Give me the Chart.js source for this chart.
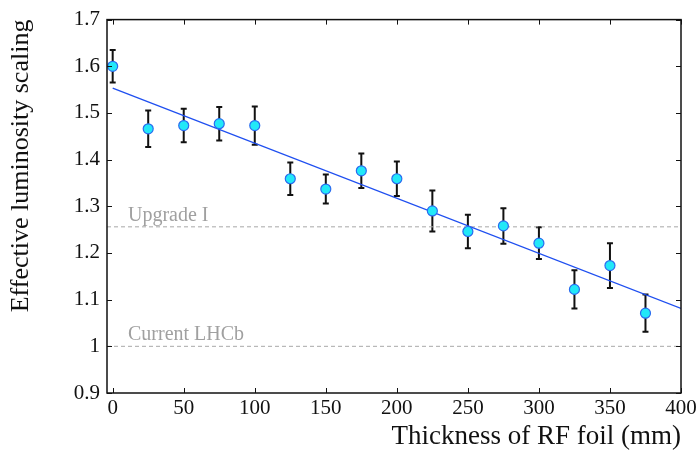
<!DOCTYPE html>
<html>
<head>
<meta charset="utf-8">
<script src="https://cdn.jsdelivr.net/npm/chart.js@4.4.0/dist/chart.umd.min.js"></script>
<style>
  html, body { margin: 0; padding: 0; background: #fff; }
  #wrap { width: 700px; height: 450px; }
</style>
</head>
<body>
<div id="wrap"><canvas id="chart"></canvas></div>
<script>
// thickness of RF foil (mm)
const thickness = [0, 25, 50, 75, 100, 125, 150, 175, 200, 225, 250, 275, 300, 325, 350, 375];
// effective luminosity scaling and its error
const scaling = [1.600, 1.466, 1.473, 1.477, 1.473, 1.359, 1.337, 1.376, 1.359, 1.290, 1.246, 1.258, 1.221, 1.122, 1.173, 1.071];
const errors  = [0.035, 0.039, 0.036, 0.036, 0.041, 0.035, 0.031, 0.037, 0.037, 0.044, 0.036, 0.038, 0.034, 0.041, 0.048, 0.040];
// linear fit end points
const fitX = [0, 400];
const fitY = [1.553, 1.081];
// reference levels
const refNames = ["Upgrade I", "Current LHCb"];
const refLevels = [1.256, 1.0];

const xMin = -4, xMax = 400;
const yTicks = [0.9, 1, 1.1, 1.2, 1.3, 1.4, 1.5, 1.6, 1.7];
const xTicks = [0, 50, 100, 150, 200, 250, 300, 350, 400];

const FONT = "'Liberation Serif', 'DejaVu Serif', serif";

const datasets = [];
refLevels.forEach((lvl, i) => {
    datasets.push({
        type: "line",
        label: refNames[i],
        data: [{ x: xMin, y: lvl }, { x: xMax, y: lvl }],
        borderColor: "#a8a8a8",
        borderWidth: 1,
        borderDash: [4, 3],
        pointRadius: 0,
        order: 3
    });
});
datasets.push({
    type: "line",
    label: "fit",
    data: fitX.map((x, i) => ({ x: x, y: fitY[i] })),
    borderColor: "#1f4ff0",
    borderWidth: 1.3,
    pointRadius: 0,
    order: 2
});
datasets.push({
    type: "scatter",
    label: "data",
    data: thickness.map((x, i) => ({ x: x, y: scaling[i] })),
    backgroundColor: "#22e8f8",
    borderColor: "#2a6cf0",
    borderWidth: 1.2,
    pointRadius: 5,
    order: 0
});

/* ERROR BARS, FRAME, TICKS, LABELS */
const extras = {
    id: "extras",
    beforeDatasetsDraw(chart) {
        const ctx = chart.ctx;
        const xs = chart.scales.x, ys = chart.scales.y;
        ctx.save();
        ctx.strokeStyle = "#111";
        ctx.lineWidth = 2;
        thickness.forEach((t, i) => {
            const px = xs.getPixelForValue(t);
            const top = ys.getPixelForValue(scaling[i] + errors[i]);
            const bot = ys.getPixelForValue(scaling[i] - errors[i]);
            ctx.beginPath();
            ctx.moveTo(px, top); ctx.lineTo(px, bot);
            ctx.moveTo(px - 3, top); ctx.lineTo(px + 3, top);
            ctx.moveTo(px - 3, bot); ctx.lineTo(px + 3, bot);
            ctx.stroke();
        });
        // reference labels
        ctx.fillStyle = "#a0a0a0";
        ctx.font = "20px " + FONT;
        ctx.textBaseline = "alphabetic";
        refLevels.forEach((lvl, i) => {
            ctx.fillText(refNames[i], chart.chartArea.left + 21, ys.getPixelForValue(lvl) - 6);
        });
        ctx.restore();
    },
    afterDraw(chart) {
        const ctx = chart.ctx;
        const a = chart.chartArea;
        const xs = chart.scales.x, ys = chart.scales.y;
        ctx.save();
        ctx.strokeStyle = "#111";
        ctx.lineWidth = 1.5;
        ctx.strokeRect(a.left, a.top, a.right - a.left, a.bottom - a.top);
        ctx.lineWidth = 1;
        ctx.beginPath();
        xTicks.forEach(v => {
            const px = Math.round(xs.getPixelForValue(v)) + 0.5;
            ctx.moveTo(px, a.bottom); ctx.lineTo(px, a.bottom - 5);
            ctx.moveTo(px, a.top); ctx.lineTo(px, a.top + 5);
        });
        yTicks.forEach(v => {
            const py = Math.round(ys.getPixelForValue(v)) + 0.5;
            ctx.moveTo(a.left, py); ctx.lineTo(a.left + 5, py);
            ctx.moveTo(a.right, py); ctx.lineTo(a.right - 5, py);
        });
        ctx.stroke();
        ctx.restore();
    }
};

new Chart(document.getElementById("chart"), {
    data: { datasets: datasets },
    plugins: [extras],
    options: {
        responsive: true,
        maintainAspectRatio: false,
        animation: false,
        layout: { padding: { top: 14, right: 19, left: 0, bottom: 0 } },
        plugins: { legend: { display: false }, tooltip: { enabled: false } },
        scales: {
            x: {
                type: "linear",
                min: xMin, max: xMax,
                afterBuildTicks: s => { s.ticks = xTicks.map(v => ({ value: v })); },
                afterFit: s => { s.height = 57; },
                grid: { display: false, drawTicks: false },
                border: { display: false },
                ticks: { color: "#111", font: { family: FONT, size: 21 }, padding: 3, maxRotation: 0 },
                title: {
                    display: true, text: "Thickness of RF foil (mm)", align: "end",
                    color: "#111", font: { family: FONT, size: 27, lineHeight: 1 }, padding: { top: 0, bottom: 0 }
                }
            },
            y: {
                type: "linear",
                min: 0.9, max: 1.7,
                afterBuildTicks: s => { s.ticks = yTicks.map(v => ({ value: v })); },
                afterFit: s => { s.width = 107; },
                grid: { display: false, drawTicks: false },
                border: { display: false },
                ticks: {
                    color: "#111", font: { family: FONT, size: 21 }, padding: 7,
                    callback: v => String(Math.round(v * 10) / 10)
                },
                title: {
                    display: true, text: "Effective luminosity scaling", align: "end",
                    color: "#111", font: { family: FONT, size: 26, lineHeight: 1 }, padding: { top: 8, bottom: 0 }
                }
            }
        }
    }
});
</script>
</body>
</html>
